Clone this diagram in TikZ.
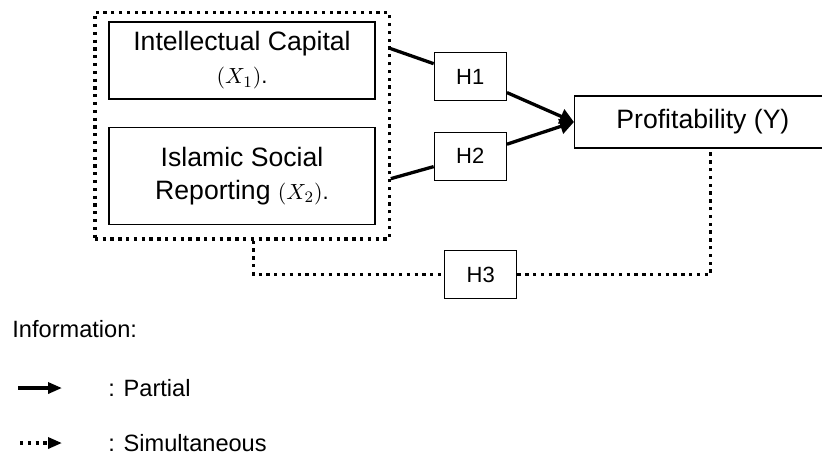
\documentclass[tikz,border=0pt]{standalone}
\usepackage[no-math]{fontspec}
\setmainfont{Liberation Sans}
\usetikzlibrary{arrows.meta, positioning, fit}

\newcommand{\varsym}[1]{{\fontsize{11pt}{13pt}\selectfont$(X_{#1})$.}}

\begin{document}
\begin{tikzpicture}[
    x=0.5pt, y=0.5pt,
    varbox/.style={rectangle, draw=black, line width=0.65pt,
                minimum width=133pt, align=center, fill=white,
                font=\fontsize{13.3pt}{16.5pt}\selectfont},
    hypbox/.style={rectangle, draw=black, line width=0.65pt,
                minimum width=36pt, minimum height=24pt, fill=white,
                font=\fontsize{11pt}{13pt}\selectfont},
    arrow/.style={-{Triangle[length=7pt, width=7.5pt]}, line width=1.65pt},
    legarrow/.style={-{Triangle[length=7pt, width=5.5pt]}, line width=1.65pt},
    dotline/.style={line width=1.65pt, dash pattern=on 1.65pt off 2.25pt},
    legend/.style={inner sep=0pt, anchor=west,
                font=\fontsize{11.8pt}{14pt}\selectfont}
]
\useasboundingbox (0,0) rectangle (822,-457);

%% VARIABLES X
\node[varbox, minimum height=38.5pt] (x1) at (242,-60.5) {
    Intellectual Capital\\
    \varsym{1}
};

\node[varbox, minimum height=48.5pt, below=13.5pt of x1] (x2) {
    Islamic Social\\
    Reporting \varsym{2}
};

\node[draw, dotline, fit=(x1)(x2), inner xsep=6.75pt, inner ysep=5.75pt,
      yshift=-1.25pt] (group) {};

%% HIPOTESIS
\node[hypbox, right=29pt of x1, yshift=-8pt] (h1) {H1};
\node[hypbox, below=15.25pt of h1] (h2) {H2};

\node[varbox, minimum width=132pt, minimum height=26pt,
      right=33.5pt of h1, yshift=-22.75pt] (profit) {
    Profitability (Y)
};

\draw[arrow] ([yshift=38.5pt]group.east) -- (h1) -- (profit.west);
\draw[arrow] ([yshift=-26.5pt]group.east) -- (h2) -- (profit.west);

%% SIMULTAN
\node[hypbox, below=34.5pt of h2, xshift=5.25pt] (h3) {H3};

\draw[dotline] ([xshift=5.75pt]group.south) |- (h3) -| ([xshift=2pt]profit.south);

%% KETERANGAN
\node[legend] (info) at (12,-329) {Information:};

\coordinate (p1) at (18,-388);
\coordinate (p2) at (62,-388);
\draw[legarrow] (p1) -- (p2);
\node[legend] (partial) at (108,-388) {: Partial};

\coordinate (s1) at (20,-443);
\coordinate (s2) at (62,-443);
\draw[legarrow, dash pattern=on 1.65pt off 2.25pt] (s1) -- (s2);
\node[legend] (simul) at (108,-443) {: Simultaneous};

\end{tikzpicture}
\end{document}
